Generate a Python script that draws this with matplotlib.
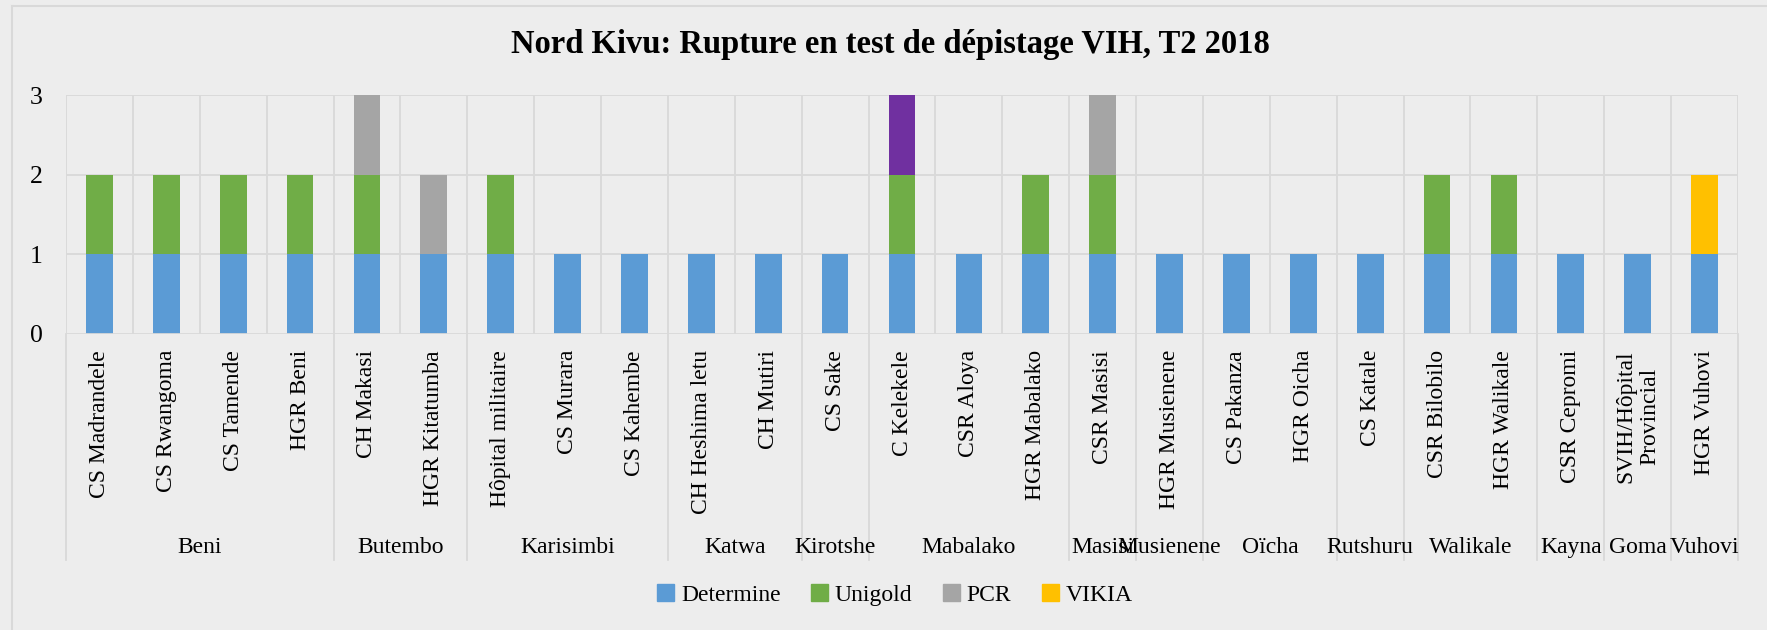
import numpy as np
import matplotlib
matplotlib.use("Agg")
import matplotlib.pyplot as plt
from matplotlib.patches import Patch
from matplotlib.lines import Line2D

# facilities (category axis, level 1)
facilities = ["CS Madrandele", "CS Rwangoma", "CS Tamende", "HGR Beni",
              "CH Makasi", "HGR Kitatumba",
              "Hôpital militaire", "CS Murara", "CS Kahembe",
              "CH Heshima letu", "CH Mutiri",
              "CS Sake",
              "C Kelekele", "CSR Aloya", "HGR Mabalako",
              "CSR Masisi",
              "HGR Musienene",
              "CS Pakanza", "HGR Oicha",
              "CS Katale",
              "CSR Bilobilo", "HGR Walikale",
              "CSR Cepromi",
              "SVIH/Hôpital\nProvincial",
              "HGR Vuhovi"]

# districts (category axis, level 2) and how many facilities each one has
districts = ["Beni", "Butembo", "Karisimbi", "Katwa", "Kirotshe", "Mabalako",
             "Masisi", "Musienene", "Oïcha", "Rutshuru", "Walikale",
             "Kayna", "Goma", "Vuhovi"]
district_sizes = [4, 2, 3, 2, 1, 3, 1, 1, 2, 1, 2, 1, 1, 1]

determine = [1, 1, 1, 1, 1, 1, 1, 1, 1, 1, 1, 1, 1, 1, 1, 1, 1, 1, 1, 1, 1, 1, 1, 1, 1]
unigold   = [1, 1, 1, 1, 1, 0, 1, 0, 0, 0, 0, 0, 1, 0, 1, 1, 0, 0, 0, 0, 1, 1, 0, 0, 0]
pcr       = [0, 0, 0, 0, 1, 1, 0, 0, 0, 0, 0, 0, 0, 0, 0, 1, 0, 0, 0, 0, 0, 0, 0, 0, 0]
vikia     = [0, 0, 0, 0, 0, 0, 0, 0, 0, 0, 0, 0, 0, 0, 0, 0, 0, 0, 0, 0, 0, 0, 0, 0, 1]
autre     = [0, 0, 0, 0, 0, 0, 0, 0, 0, 0, 0, 0, 1, 0, 0, 0, 0, 0, 0, 0, 0, 0, 0, 0, 0]

series = [("Determine", determine, "#5B9BD5"),
          ("Unigold", unigold, "#70AD47"),
          ("PCR", pcr, "#A5A5A5"),
          ("VIKIA", vikia, "#FFC000"),
          ("_autre", autre, "#7030A0")]

BG = "#EDEDED"
GRID = "#D9D9D9"
FONT = "Liberation Serif"
W, H = 1767, 630

plt.rcParams["font.family"] = [FONT, "DejaVu Serif"]

fig = plt.figure(figsize=(W / 100, H / 100), dpi=100, facecolor=BG)
# plot area in pixels: left 66, right 1738, top 95, zero line 334
px_l, px_r, px_t, px_b = 66, 1738, 95, 334
ax = fig.add_axes([px_l / W, 1 - px_b / H, (px_r - px_l) / W, (px_b - px_t) / H])
ax.set_facecolor(BG)

n = len(facilities)
x = np.arange(n)
bottom = np.zeros(n)
for name, vals, col in series:
    vals = np.array(vals, dtype=float)
    ax.bar(x, vals, width=0.4, bottom=bottom, color=col, zorder=3)
    bottom += vals

ax.set_xlim(-0.5, n - 0.5)
ax.set_ylim(0, 3)
ax.set_yticks([0, 1, 2, 3])
ax.tick_params(axis="y", length=0, pad=17, labelsize=18.5)
ax.set_xticks([])
for s in ax.spines.values():
    s.set_visible(False)

# gridlines
for yv in [1, 2, 3]:
    ax.axhline(yv, color=GRID, lw=1.3, zorder=1)
for k in range(n + 1):
    ax.axvline(k - 0.5, color=GRID, lw=1.3, zorder=1)
ax.axhline(0, color=GRID, lw=2, zorder=4)

# facility labels (rotated)
ytop = -(350 - px_b) / (px_b - px_t)
trans = ax.get_xaxis_transform()
for i, lab in enumerate(facilities):
    ax.text(i, ytop, lab, rotation=90, ha="center", va="top", multialignment="center",
            fontsize=17, transform=trans, clip_on=False)

# district labels and separators
ydist = -(553 - px_b) / (px_b - px_t)
ysep = -(560 - px_b) / (px_b - px_t)
edges = np.concatenate([[0], np.cumsum(district_sizes)]) - 0.5
for k, d in enumerate(districts):
    mid = (edges[k] + edges[k + 1]) / 2
    ax.text(mid, ydist, d, ha="center", va="baseline", fontsize=17,
            transform=trans, clip_on=False)
for e in edges:
    ax.add_line(Line2D([e, e], [0, ysep], color=GRID, lw=1.3, transform=trans, clip_on=False))

# title
fig.text(890 / W, 1 - 44 / H, "Nord Kivu: Rupture en test de dépistage VIH, T2 2018",
         ha="center", va="center", fontsize=23.5, fontweight="bold")

# legend
handles = [Patch(color=col, label=name) for name, vals, col in series if not name.startswith("_")]
fig.legend(handles=handles, loc="center", bbox_to_anchor=(895 / W, 1 - 595 / H), ncol=4,
           frameon=False, fontsize=17, handlelength=0.7, handleheight=0.7,
           handletextpad=0.3, columnspacing=1.3)

# chart border
fig.add_artist(Line2D([12 / W, 1], [1 - 6 / H, 1 - 6 / H], color=GRID, lw=1.5))
fig.add_artist(Line2D([12 / W, 12 / W], [0, 1 - 6 / H], color=GRID, lw=1.5))

fig.savefig("out.png", dpi=100, facecolor=BG)
